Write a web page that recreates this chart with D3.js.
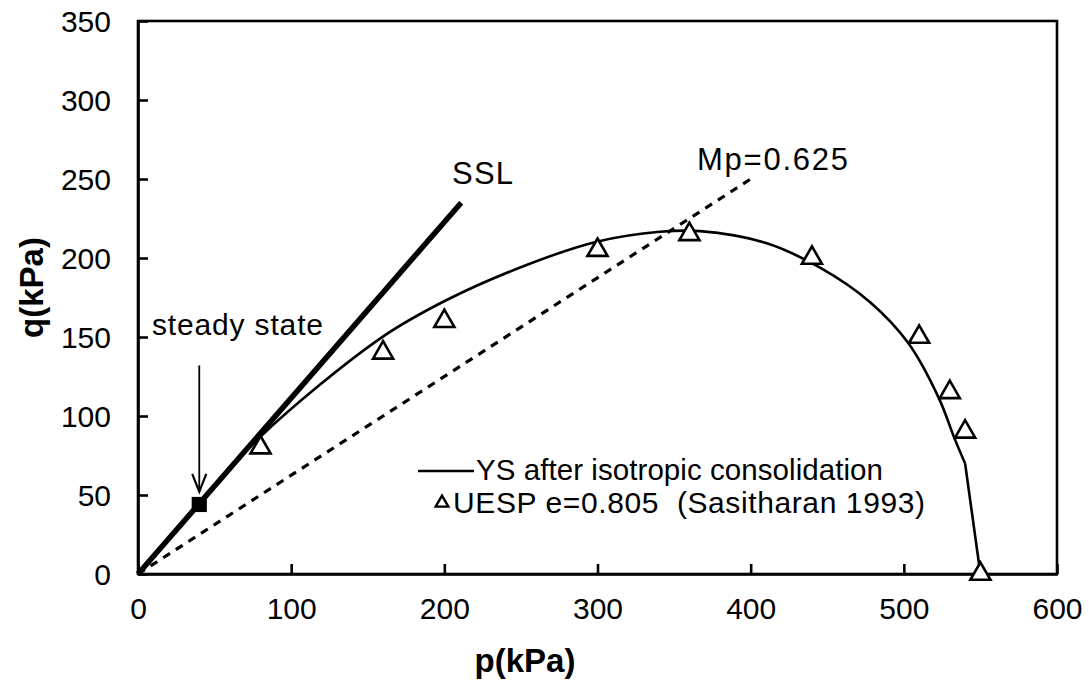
<!DOCTYPE html>
<html>
<head>
<meta charset="utf-8">
<script src="https://cdn.jsdelivr.net/npm/d3@7"></script>
<style>
  body { margin: 0; background: #fff; }
  svg { font-family: "Liberation Sans", Arial, sans-serif; }
</style>
</head>
<body>
<svg id="chart" width="1089" height="682"></svg>
<script>
// tick values
const xTicks = [0, 100, 200, 300, 400, 500, 600];
const yTicks = [0, 50, 100, 150, 200, 250, 300, 350];

// UESP e=0.805 (Sasitharan 1993)
const uespP = [80, 160, 200, 300, 360, 440, 510, 530, 540, 550];
const uespQ = [80, 140, 160, 205, 215, 200, 150, 115, 90, 0];

// yield surface after isotropic consolidation (smooth part, then straight tail)
const ysP = [45, 80, 158, 201.5, 253.7, 299.5, 340.8, 367, 410, 445, 478, 503, 523, 533, 540];
const ysQ = [50, 87, 149, 173.4, 195.6, 210.3, 216.6, 217, 209.5, 194, 172, 146, 111, 86, 70];
const ysTailP = [540, 550];
const ysTailQ = [70, 0];

// steady state line and Mp line
const sslP = [0, 211];
const sslQ = [0, 235];
const mpP = [0, 400];
const mpQ = [0, 250];

// steady state point
const steadyP = 40;
const steadyQ = 44;

const svg = d3.select('#chart');
const x = d3.scaleLinear().domain([0, 600]).range([138, 1057]);
const y = d3.scaleLinear().domain([0, 350]).range([574, 21]);

const zip = (a, b) => a.map((d, i) => [d, b[i]]);
const line = d3.line().x(d => x(d[0])).y(d => y(d[1]));

// ssl
svg.append('path')
  .attr('d', line(zip(sslP, sslQ)))
  .attr('fill', 'none').attr('stroke', '#000').attr('stroke-width', 5.5);

// Mp dashed
svg.append('path')
  .attr('d', line(zip(mpP, mpQ)))
  .attr('fill', 'none').attr('stroke', '#000').attr('stroke-width', 3.2)
  .attr('stroke-dasharray', '8,7');

// yield surface
svg.append('path')
  .attr('d', d3.line().x(d => x(d[0])).y(d => y(d[1])).curve(d3.curveCatmullRom.alpha(0.5))(zip(ysP, ysQ)))
  .attr('fill', 'none').attr('stroke', '#000').attr('stroke-width', 2.6);
svg.append('path')
  .attr('d', line(zip(ysTailP, ysTailQ)))
  .attr('fill', 'none').attr('stroke', '#000').attr('stroke-width', 2.6);

// frame
svg.append('rect')
  .attr('x', x(0)).attr('y', y(350))
  .attr('width', x(600) - x(0)).attr('height', y(0) - y(350))
  .attr('fill', 'none').attr('stroke', '#000').attr('stroke-width', 2.6);

// axes with inward ticks
const xAxis = svg.append('g')
  .attr('transform', `translate(0,${y(0)})`)
  .call(d3.axisBottom(x).tickValues(xTicks).tickSize(-10).tickPadding(22).tickSizeOuter(0));
const yAxis = svg.append('g')
  .attr('transform', `translate(${x(0)},0)`)
  .call(d3.axisLeft(y).tickValues(yTicks).tickSize(-10).tickPadding(27).tickSizeOuter(0));
[xAxis, yAxis].forEach(g => {
  g.select('.domain').attr('stroke-width', 2.6);
  g.selectAll('.tick line').attr('stroke-width', 2.6);
  g.selectAll('.tick text').attr('font-size', 30).attr('font-family', '"Liberation Sans", Arial, sans-serif').attr('fill', '#000');
});
xAxis.selectAll('.tick text').attr('dy', '0.75em');
yAxis.selectAll('.tick text').attr('dy', '0.36em');

// markers
const tri = d3.symbol().type(d3.symbolTriangle).size(175);
svg.append('g').selectAll('path')
  .data(zip(uespP, uespQ))
  .join('path')
  .attr('transform', d => `translate(${x(d[0])},${y(d[1])})`)
  .attr('d', tri)
  .attr('fill', '#fff').attr('stroke', '#000').attr('stroke-width', 2.6);

svg.append('path')
  .attr('transform', `translate(${x(steadyP)},${y(steadyQ)})`)
  .attr('d', d3.symbol().type(d3.symbolSquare).size(230))
  .attr('fill', '#000');

// arrow to steady state
const ax = x(steadyP);
svg.append('line')
  .attr('x1', ax).attr('x2', ax).attr('y1', y(132)).attr('y2', y(52))
  .attr('stroke', '#000').attr('stroke-width', 1.8);
svg.append('path')
  .attr('d', `M${ax - 7},${y(52) - 18} L${ax},${y(52)} L${ax + 7},${y(52) - 18}`)
  .attr('fill', 'none').attr('stroke', '#000').attr('stroke-width', 2.2);

// labels
const label = (t, px, py, size, len) => svg.append('text')
  .attr('x', px).attr('y', py).attr('font-size', size)
  .attr('textLength', len).attr('lengthAdjust', 'spacing').text(t);
label('SSL', 452, 184, 31, 61);
label('Mp=0.625', 697, 170, 31, 151);
label('steady state', 152, 335, 30, 171);

// legend
svg.append('line').attr('x1', 418).attr('x2', 474).attr('y1', 471).attr('y2', 471)
  .attr('stroke', '#000').attr('stroke-width', 2.4);
label('YS after isotropic consolidation', 476, 480, 29.5, 407);
svg.append('path').attr('transform', 'translate(442,503)')
  .attr('d', d3.symbol().type(d3.symbolTriangle).size(70))
  .attr('fill', '#fff').attr('stroke', '#000').attr('stroke-width', 2.4);
label('UESP e=0.805  (Sasitharan 1993)', 453, 513, 30, 472)
  .attr('xml:space', 'preserve').style('white-space', 'pre');

// axis titles
svg.append('text')
  .attr('x', 525).attr('y', 672).attr('text-anchor', 'middle')
  .attr('font-size', 33).attr('font-weight', 'bold').text('p(kPa)');
svg.append('text')
  .attr('transform', `translate(43,${(y(0) + y(350)) / 2 - 10}) rotate(-90)`)
  .attr('text-anchor', 'middle').attr('font-size', 33).attr('font-weight', 'bold')
  .text('q(kPa)');
</script>
</body>
</html>
